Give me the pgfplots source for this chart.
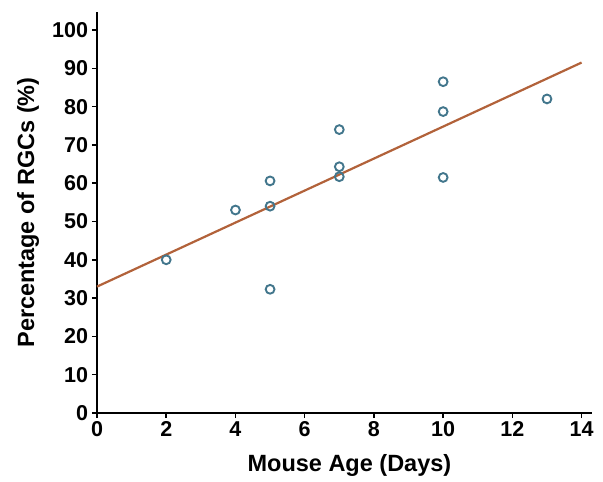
\documentclass[border=0pt]{standalone}
\usepackage{fontspec}
\setmainfont{Liberation Sans}
\usepackage{pgfplots}
\pgfplotsset{compat=1.18}
\definecolor{ptblue}{RGB}{66,118,140}
\definecolor{fitline}{RGB}{178,98,58}

\begin{document}
\begin{tikzpicture}
\begin{axis}[
    name=main,
    scale only axis,
    width=495bp, height=401bp,
    xmin=0, xmax=14.3,
    ymin=0, ymax=104.7,
    axis lines=left,
    axis line style={line width=2.2bp, -},
    xtick={0,2,...,14},
    ytick={0,10,...,100},
    tick style={line width=1.5bp, black},
    tick align=outside,
    major tick length=5bp,
    /pgf/number format/assume math mode=true,
    tick label style={font=\fontsize{21.5bp}{24bp}\selectfont\bfseries},
    xticklabel style={yshift=0bp},
    yticklabel style={xshift=-0.5bp},
    xlabel={Mouse Age (Days)},
    ylabel={Percentage of RGCs (\%)},
    label style={font=\fontsize{23.5bp}{26bp}\selectfont\bfseries},
    xlabel style={at={(axis description cs:0.51,-0.1297)}, anchor=center},
    ylabel style={at={(axis description cs:-0.1394,0.5)}, anchor=center},
    clip=false,
]
% regression line
\addplot[fitline, line width=2.2bp] coordinates {(0,33) (14,91.5)};
% observations
\addplot[only marks, mark=o, mark size=4.4bp, mark options={ptblue, line width=1.9bp}]
  coordinates {
    (2,40) (4,53) (5,32.3) (5,54) (5,60.6)
    (7,61.7) (7,64.3) (7,74)
    (10,61.5) (10,78.7) (10,86.5)
    (13,82)
  };
\end{axis}
\pgfresetboundingbox
\path[use as bounding box] ([shift={(-97bp,-69bp)}]main.south west) rectangle ([shift={(11bp,12bp)}]main.north east);
\end{tikzpicture}
\end{document}
